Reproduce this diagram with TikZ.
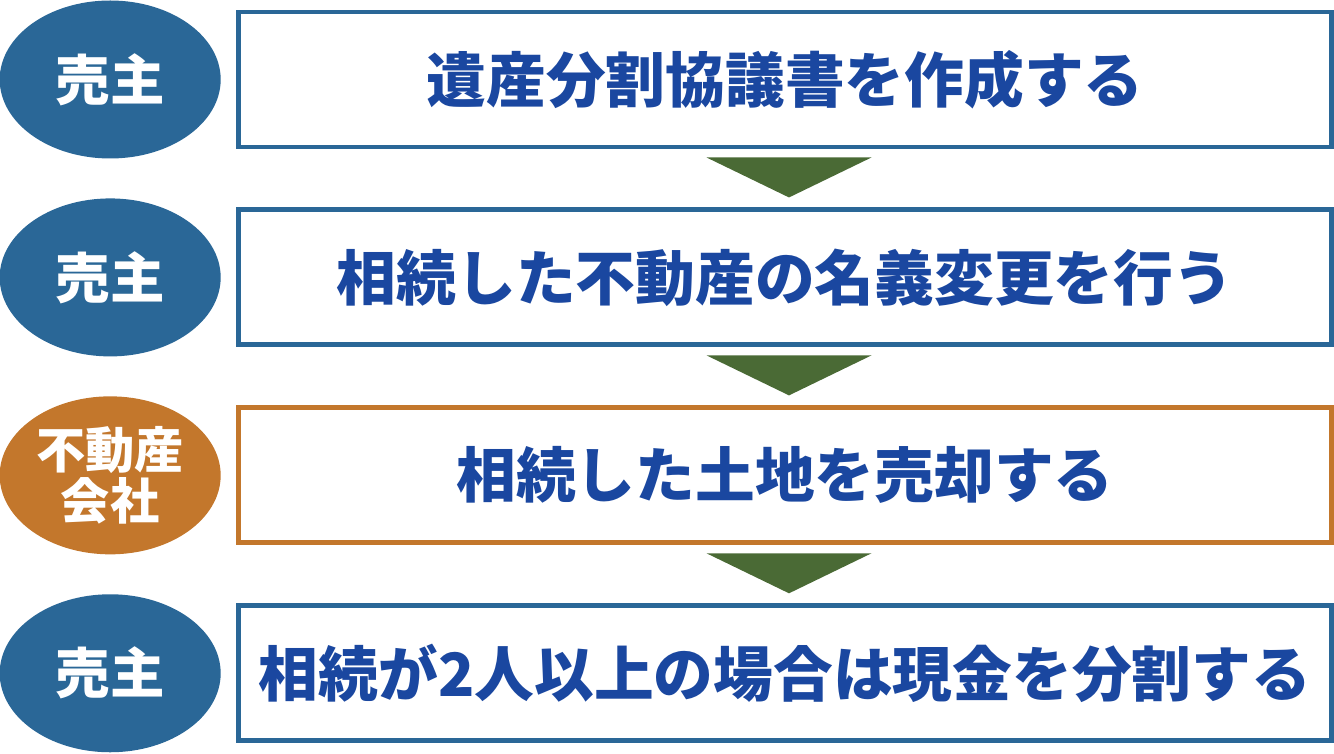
\documentclass[tikz,border=0pt]{standalone}
\usepackage{fontspec}
\setmainfont{Noto Sans CJK JP}
\usepackage{tikz}
\usetikzlibrary{positioning, shapes.geometric, calc}

\definecolor{sellerblue}{HTML}{2A6797}
\definecolor{agentorange}{HTML}{C3772C}
\definecolor{textblue}{HTML}{1A47A0}
\definecolor{arrowgreen}{HTML}{4A6A35}

\tikzset{
    stepbox/.style={draw=sellerblue, line width=2.8pt, fill=white, rectangle,
        minimum width=21.86cm, minimum height=2.7cm, inner sep=0pt,
        text=textblue, font=\bfseries\fontsize{34}{40}\selectfont},
    actor/.style={ellipse, fill=sellerblue, minimum width=4.42cm, minimum height=3.16cm,
        inner sep=0pt, text=white, align=center, font=\bfseries\fontsize{31}{36}\selectfont},
    downtri/.style={fill=arrowgreen}
}

\begin{document}
\begin{tikzpicture}
        \useasboundingbox (0,0) rectangle (26.68,-15.08);

        \node[stepbox] (b1) at (15.7,-1.59) {遺産分割協議書を作成する};
        \node[stepbox, below=1.16cm of b1] (b2) {相続した不動産の名義変更を行う};
        \node[stepbox, below=1.16cm of b2, draw=agentorange] (b3) {相続した土地を売却する};
        \node[stepbox, below=1.16cm of b3] (b4) {相続が2人以上の場合は現金を分割する};

        \node[actor, left=0.3cm of b1] (a1) {売主};
        \node[actor, left=0.3cm of b2] (a2) {売主};
        \node[actor, left=0.3cm of b3, fill=agentorange,
              font=\bfseries\fontsize{28}{29}\selectfont] (a3) {不動産\\会社};
        \node[actor, left=0.3cm of b4] (a4) {売主};

        \foreach \u/\v in {b1/b2, b2/b3, b3/b4} {
            \coordinate (top) at ($(\u.south)+(0.08,-0.16)$);
            \coordinate (tip) at ($(\v.north)+(0.08,0.2)$);
            \fill[downtri] ($(top)+(-1.65,0)$) -- ($(top)+(1.65,0)$) -- (tip) -- cycle;
        }

    \end{tikzpicture}
\end{document}
